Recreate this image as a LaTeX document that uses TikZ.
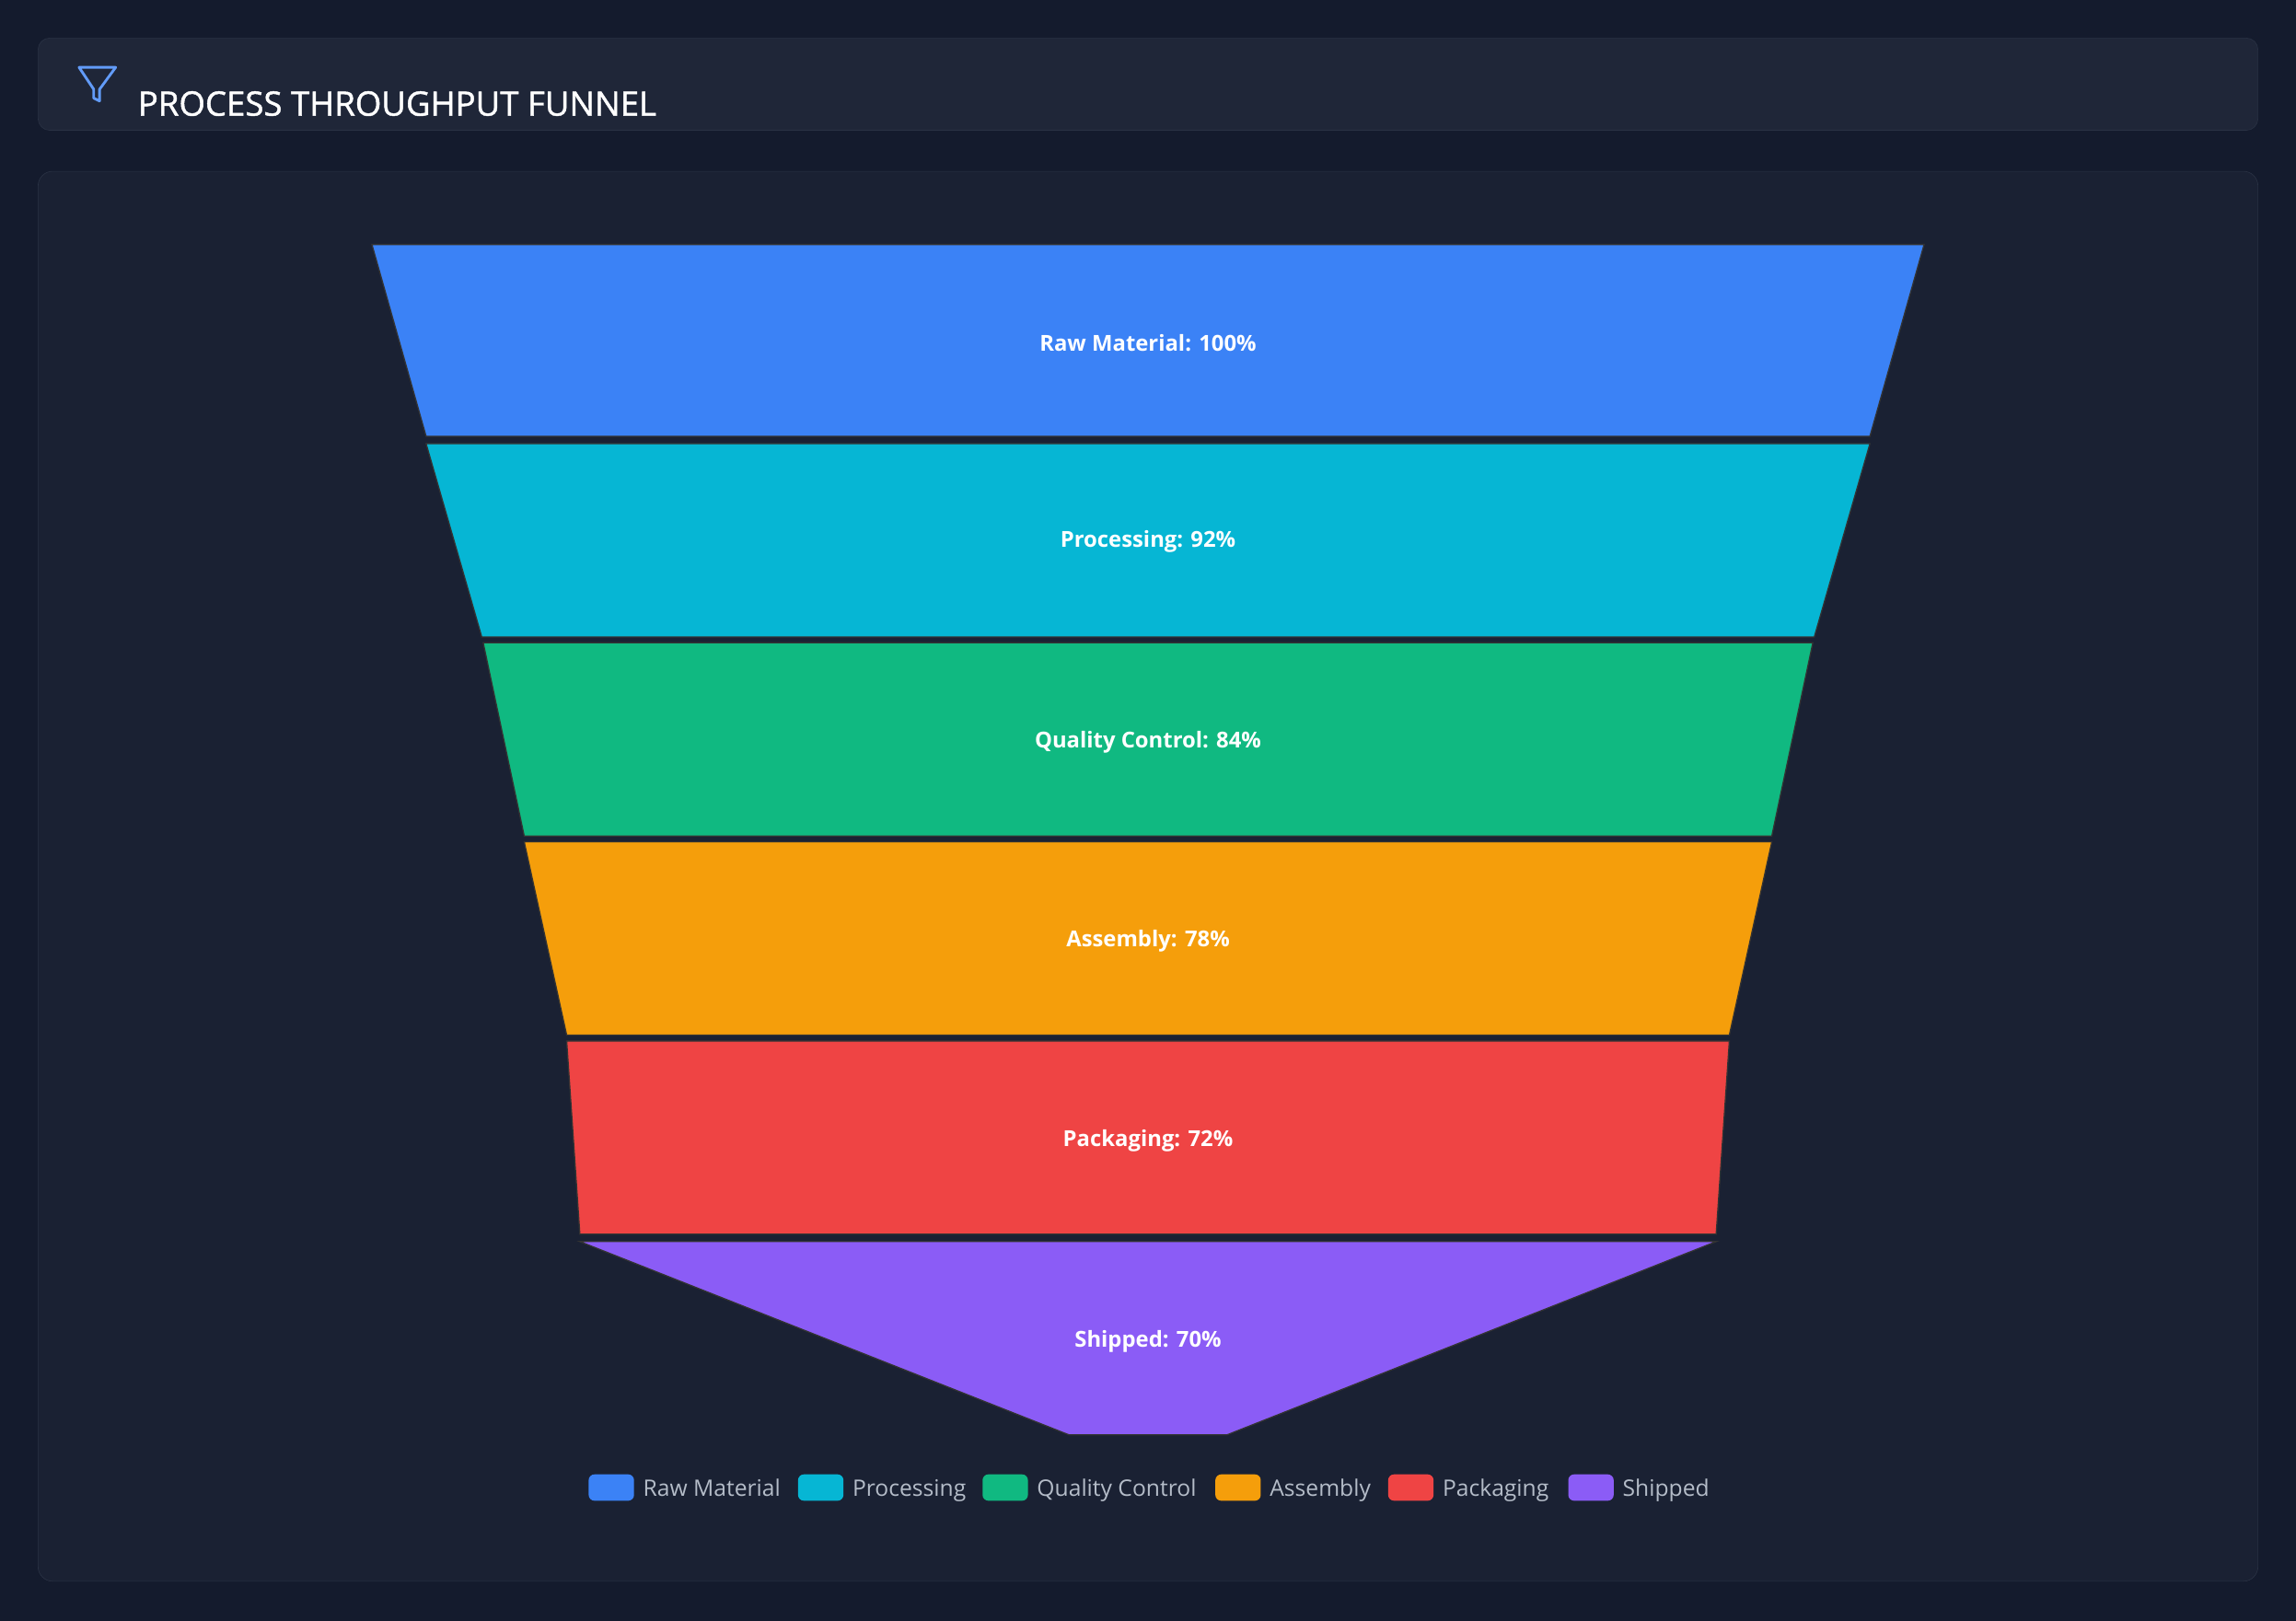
\documentclass[tikz,border=0pt]{standalone}
\usepackage{fontspec}
\setmainfont{Open Sans}
\begin{document}
\begin{tikzpicture}[x=1pt,y=-1pt,
  seg/.style={draw=black!60!gray,line width=0.8pt},
  lbl/.style={text=white,font=\fontsize{15}{18}\selectfont\bfseries},
  lg/.style={text=legtxt,font=\fontsize{15.5}{19}\selectfont,anchor=base west,inner sep=0pt},
  sw/.style={rounded corners=4pt}]
\definecolor{bg}{HTML}{141B2D}
\definecolor{card}{HTML}{1A2133}
\definecolor{cardb}{HTML}{2A3244}
\definecolor{hdr}{HTML}{1F2638}
\definecolor{legtxt}{HTML}{B4BCC8}
\definecolor{cA}{HTML}{3B82F6}
\definecolor{cB}{HTML}{06B6D4}
\definecolor{cC}{HTML}{10B981}
\definecolor{cD}{HTML}{F59E0B}
\definecolor{cE}{HTML}{EF4444}
\definecolor{cF}{HTML}{8B5CF6}
\fill[bg] (0,0) rectangle (1568,1107);
\useasboundingbox (0,0) rectangle (1568,1107);
\draw[fill=hdr,draw=cardb,rounded corners=8pt] (26,26) rectangle (1542,89);
\draw[fill=card,draw=cardb,rounded corners=10pt] (26,117) rectangle (1542,1080);
% icon
\draw[cA!80!white,line width=1.8pt,line join=round] (54,46) -- (79,46) -- (68,61) -- (68,69) -- (64,67) -- (64,61) -- cycle;
\node[anchor=base west,inner sep=0pt,text=white,font=\fontsize{23}{26}\selectfont\addfontfeatures{FakeBold=1.2}] (title) at (94,79) {PROCESS THROUGHPUT FUNNEL};
% funnel
\draw[seg,fill=cA] (254,167) -- (1314,167) -- (1277,298) -- (291,298) -- cycle;
\draw[seg,fill=cB] (291,303) -- (1277,303) -- (1239,435) -- (329,435) -- cycle;
\draw[seg,fill=cC] (330,439) -- (1238,439) -- (1210,571) -- (358,571) -- cycle;
\draw[seg,fill=cD] (358,575) -- (1210,575) -- (1181,707) -- (387,707) -- cycle;
\draw[seg,fill=cE] (387,711) -- (1181,711) -- (1172,843) -- (396,843) -- cycle;
\draw[seg,fill=cF] (396,848) -- (1172,848) -- (838,980) -- (730,980) -- cycle;
\node[lbl] (l1) at (784,234) {Raw Material: 100\%};
\node[lbl] (l2) at (784,370) {Processing: 92\%};
\node[lbl] (l3) at (784,507) {Quality Control: 84\%};
\node[lbl] (l4) at (784,643) {Assembly: 78\%};
\node[lbl] (l5) at (784,779) {Packaging: 72\%};
\node[lbl] (l6) at (784,916) {Shipped: 70\%};
% legend
\foreach \x/\c/\t/\n in {402/cA/Raw Material/a,545/cB/Processing/b,671/cC/Quality Control/c,830/cD/Assembly/d,948/cE/Packaging/e,1071/cF/Shipped/f}{
  \fill[\c,sw] (\x,1007) rectangle ++(31,18);
  \node[lg] (lg\n) at (\x+37,1022) {\t};
}
\end{tikzpicture}
\end{document}
